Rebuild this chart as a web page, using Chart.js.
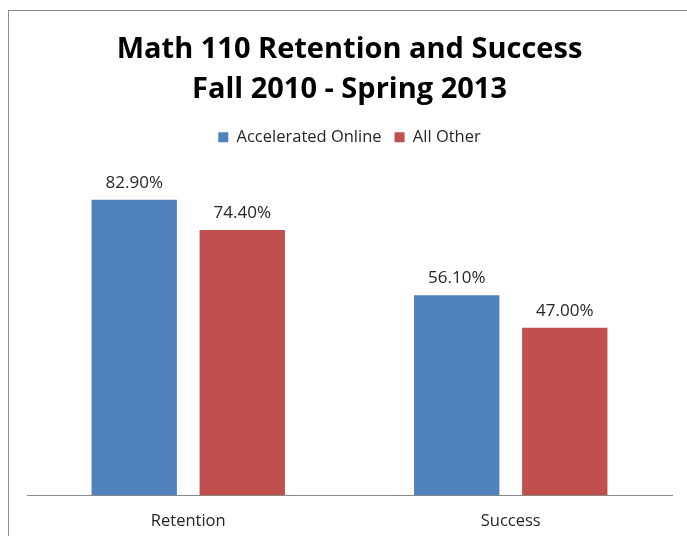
<!DOCTYPE html>
<html>
<head>
<meta charset="utf-8">
<script src="https://cdn.jsdelivr.net/npm/chart.js@4/dist/chart.umd.min.js"></script>
<style>
  html, body { margin: 0; padding: 0; background: #fff; }
  #wrap { position: relative; width: 687px; height: 536px; }
  #frame { position: absolute; left: 8px; top: 10px; width: 690px; height: 560px; border: 1px solid #8c8c8c; box-sizing: border-box; pointer-events: none; }
  canvas { position: absolute; left: 0; top: 0; }
</style>
</head>
<body>
<div id="wrap">
  <canvas id="chart" width="687" height="536"></canvas>
  <div id="frame"></div>
</div>
<script>
let categories = ['Retention', 'Success']
let accelerated = [82.9, 56.1]
let allOther = [74.4, 47.0]
let seriesNames = ['Accelerated Online', 'All Other']

let fontFamily = '"Open Sans", sans-serif'

// draws the value above each bar
let barLabels = {
  id: 'barLabels',
  afterDatasetsDraw(chart) {
    let ctx = chart.ctx
    ctx.save()
    ctx.font = '17px ' + fontFamily
    ctx.fillStyle = '#262626'
    ctx.textAlign = 'center'
    ctx.textBaseline = 'middle'
    chart.data.datasets.forEach((ds, i) => {
      chart.getDatasetMeta(i).data.forEach((bar, j) => {
        ctx.fillText(ds.data[j].toFixed(2) + '%', bar.x, bar.y - 17)
      })
    })
    ctx.restore()
  }
}

// extra room under the legend
let legendGap = {
  id: 'legendGap',
  beforeInit(chart) {
    let fit = chart.legend.fit
    chart.legend.fit = function () {
      fit.bind(chart.legend)()
      this.height += 19
    }
  }
}

let chart = new Chart(document.getElementById('chart'), {
  type: 'bar',
  data: {
    labels: categories,
    datasets: [
      {label: seriesNames[0], data: accelerated, backgroundColor: '#4F81BD'},
      {label: seriesNames[1], data: allOther, backgroundColor: '#C0504D'}
    ]
  },
  options: {
    responsive: false,
    animation: false,
    categoryPercentage: 0.67,
    barPercentage: 0.79,
    layout: {padding: {left: 27, right: 15, top: 18, bottom: -3}},
    plugins: {
      title: {
        display: true,
        text: ['Math 110 Retention and Success', 'Fall 2010 - Spring 2013'],
        color: '#000',
        font: {family: fontFamily, size: 29, weight: 'bold', lineHeight: 1.38},
        padding: {top: 12, bottom: 6}
      },
      legend: {
        labels: {
          color: '#262626',
          font: {family: fontFamily, size: 16.5},
          boxWidth: 10, boxHeight: 10, padding: 13
        }
      },
      tooltip: {enabled: false}
    },
    scales: {
      x: {
        grid: {display: false},
        border: {display: true, color: '#888'},
        ticks: {color: '#262626', font: {family: fontFamily, size: 16.5}, padding: 8}
      },
      y: {display: false, min: 0, max: 90}
    }
  },
  plugins: [barLabels, legendGap]
})
</script>
</body>
</html>
